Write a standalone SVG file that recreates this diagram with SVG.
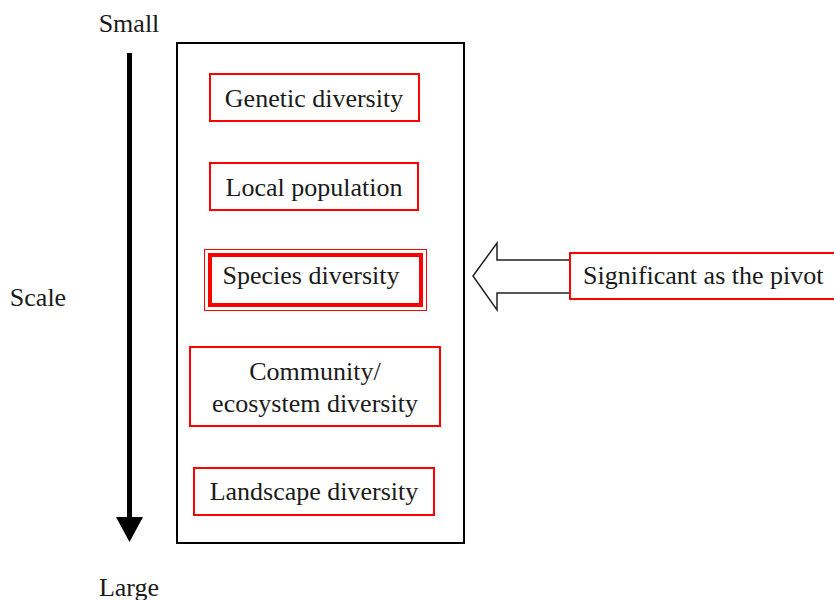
<svg xmlns="http://www.w3.org/2000/svg" width="834" height="600" viewBox="0 0 834 600">
<style>
text{font-family:"Liberation Serif","Times New Roman",serif;font-size:26px;fill:#1a1a1a}
.c{text-anchor:middle}
.rb{fill:#fff;stroke:#ff0000;stroke-width:2}
</style>
<rect width="834" height="600" fill="#fff"/>
<g id="scale-axis">
<line x1="129.5" y1="53" x2="129.5" y2="520" stroke="#000" stroke-width="5"/>
<polygon points="116,517 143,517 129.5,542" fill="#000"/>
<text class="c" x="129" y="32">Small</text>
<text class="c" x="38" y="306">Scale</text>
<text class="c" x="129" y="596">Large</text>
</g>
<g id="frame"><rect x="177" y="43" width="287" height="500" fill="none" stroke="#000" stroke-width="2"/></g>
<g id="genetic"><rect class="rb" x="210" y="74" width="209" height="47"/><text class="c" x="314" y="107">Genetic diversity</text></g>
<g id="local"><rect class="rb" x="210" y="163" width="208" height="47"/><text class="c" x="314" y="196">Local population</text></g>
<g id="species">
<rect x="204.5" y="249.5" width="222" height="61" fill="#fff" stroke="#ff0000" stroke-width="1"/>
<rect x="210" y="255" width="211" height="50" fill="#fff" stroke="#ff0000" stroke-width="4"/>
<text class="c" x="311" y="284">Species diversity</text></g>
<g id="community"><rect class="rb" x="190" y="347" width="250" height="79"/><text class="c" x="315" y="380">Community/</text><text class="c" x="315" y="412">ecosystem diversity</text></g>
<g id="landscape"><rect class="rb" x="194" y="468" width="240" height="47"/><text class="c" x="314" y="500">Landscape diversity</text></g>
<g id="connectors"><polygon points="473,276 497,243 497,260 570,260 570,293 497,293 497,310" fill="#fff" stroke="#222" stroke-width="1.5"/></g>
<g id="pivot"><rect class="rb" x="570" y="253" width="270" height="46"/><text x="583" y="284">Significant as the pivot</text></g>
</svg>
